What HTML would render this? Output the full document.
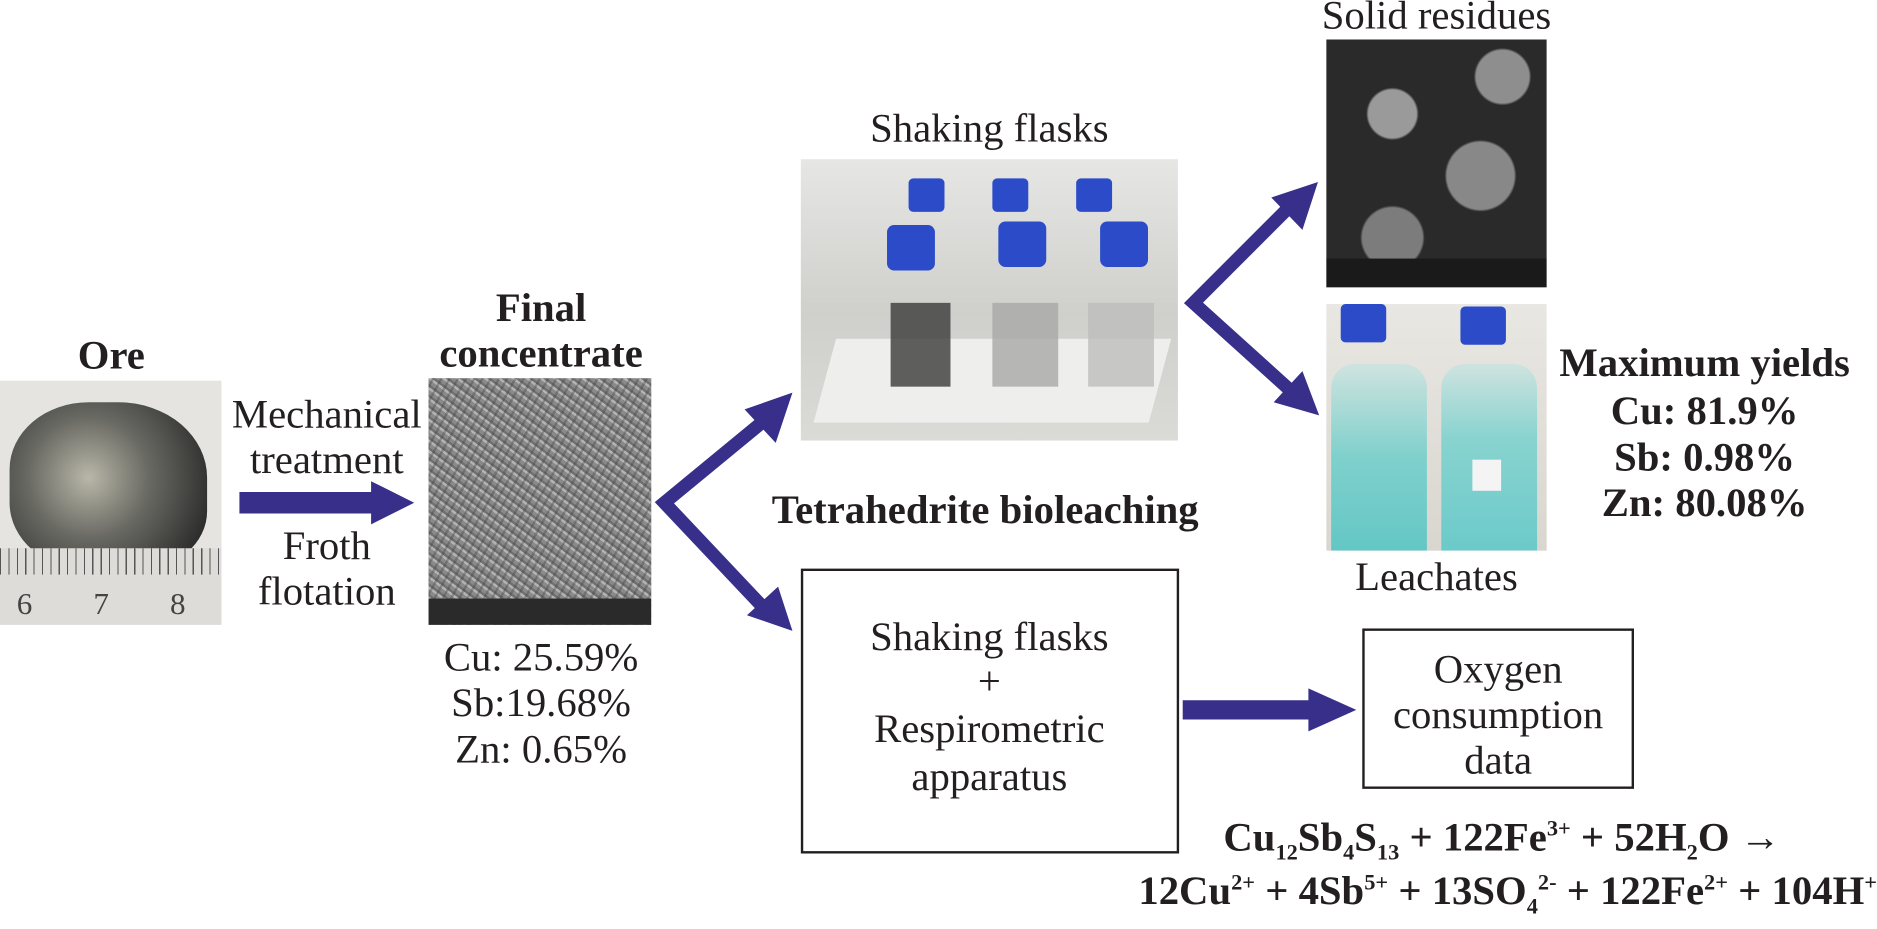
<!DOCTYPE html>
<html><head><meta charset="utf-8"><style>
html,body{margin:0;padding:0;background:#fff;overflow:hidden}
#w{position:absolute;left:0;top:0;width:1568px;height:759px;transform:scale(1.19707);transform-origin:0 0;font-family:"Liberation Serif",serif;color:#231f20}
.t{position:absolute;text-align:center;font-size:34px;line-height:36px;white-space:nowrap}
.b{font-weight:bold}
.box{position:absolute;border:2px solid #231f20;box-sizing:border-box}
.img{position:absolute;overflow:hidden}
sub,sup{font-size:55%}
</style></head><body><div id="w">
<!-- ore photo -->
<div class="img" style="left:0;top:318px;width:185px;height:204px;background:#e6e4e0">
 <div style="position:absolute;left:8px;top:18px;width:165px;height:140px;border-radius:40% 45% 35% 40%;background:radial-gradient(circle at 40% 45%,#b9b7a8,#6a6a64 40%,#2b2b2b 85%)"></div>
 <div style="position:absolute;left:0;top:140px;width:185px;height:64px;background:repeating-linear-gradient(90deg,#555 0 1px,transparent 1px 7px) top/100% 22px no-repeat,#dedcd8"></div>
 <div style="position:absolute;top:172px;left:14px;font-size:26px;color:#444">6</div>
 <div style="position:absolute;top:172px;left:78px;font-size:26px;color:#444">7</div>
 <div style="position:absolute;top:172px;left:142px;font-size:26px;color:#444">8</div>
</div>
<!-- SEM concentrate -->
<div class="img" style="left:358px;top:316px;width:186px;height:206px;background:repeating-linear-gradient(37deg,#8a8a8a 0 3px,#b4b4b4 3px 5px,#707070 5px 7px),#999">
 <div style="position:absolute;left:0;top:0;width:100%;height:100%;background:repeating-linear-gradient(-61deg,rgba(60,60,60,.35) 0 2px,transparent 2px 6px)"></div>
 <div style="position:absolute;left:0;bottom:0;width:100%;height:22px;background:#2a2a2a"></div>
</div>
<!-- shaking flasks photo -->
<div class="img" style="left:669px;top:133px;width:315px;height:235px;background:linear-gradient(#e6e6e4,#cfcfcc 55%,#dadad7)">
 <div style="position:absolute;left:20px;top:150px;width:280px;height:70px;background:#eeeeec;transform:skewX(-15deg)"></div>
 <div style="position:absolute;left:90px;top:16px;width:30px;height:28px;background:#2b4bc8;border-radius:4px"></div>
 <div style="position:absolute;left:160px;top:16px;width:30px;height:28px;background:#2b4bc8;border-radius:4px"></div>
 <div style="position:absolute;left:230px;top:16px;width:30px;height:28px;background:#2b4bc8;border-radius:4px"></div>
 <div style="position:absolute;left:72px;top:55px;width:40px;height:38px;background:#2b4bc8;border-radius:6px"></div>
 <div style="position:absolute;left:165px;top:52px;width:40px;height:38px;background:#2b4bc8;border-radius:6px"></div>
 <div style="position:absolute;left:250px;top:52px;width:40px;height:38px;background:#2b4bc8;border-radius:6px"></div>
 <div style="position:absolute;left:75px;top:120px;width:50px;height:70px;background:#3a3a3a;opacity:.8"></div>
 <div style="position:absolute;left:160px;top:120px;width:55px;height:70px;background:#a8a8a8;opacity:.8"></div>
 <div style="position:absolute;left:240px;top:120px;width:55px;height:70px;background:#bdbdbd;opacity:.8"></div>
</div>
<!-- solid residues -->
<div class="img" style="left:1108px;top:33px;width:184px;height:207px;background:radial-gradient(circle at 30% 30%,#9a9a9a 0 20px,transparent 22px),radial-gradient(circle at 70% 55%,#888 0 28px,transparent 30px),radial-gradient(circle at 30% 80%,#7c7c7c 0 25px,transparent 27px),radial-gradient(circle at 80% 15%,#8e8e8e 0 22px,transparent 24px),#2a2a2a">
 <div style="position:absolute;left:0;bottom:0;width:100%;height:24px;background:#1a1a1a"></div>
</div>
<!-- leachates -->
<div class="img" style="left:1108px;top:254px;width:184px;height:206px;background:linear-gradient(#e9e7e2,#d9d6cf)">
 <div style="position:absolute;left:12px;top:0;width:38px;height:32px;background:#2b4bc8;border-radius:4px"></div>
 <div style="position:absolute;left:112px;top:2px;width:38px;height:32px;background:#2b4bc8;border-radius:4px"></div>
 <div style="position:absolute;left:4px;top:50px;width:80px;height:156px;background:linear-gradient(#cfe3e0,#7fd0cc 50%,#64c7c5);border-radius:20px 20px 0 0"></div>
 <div style="position:absolute;left:96px;top:50px;width:80px;height:156px;background:linear-gradient(#cfe3e0,#88d3cf 40%,#6ccaca);border-radius:20px 20px 0 0"></div>
 <div style="position:absolute;left:122px;top:130px;width:24px;height:26px;background:#f4f4f4"></div>
</div>

<svg width="1568" height="759" style="position:absolute;left:0;top:0">
 <g fill="#372f8a" stroke="none">
  <polygon points="200,411 310,411 310,402 346,420 310,438 310,429 200,429"/>
  <polygon points="988,585 1093,585 1093,575 1133,593 1093,611 1093,601 988,601"/>
 </g>
 <g stroke="#372f8a" stroke-width="11" fill="none">
  <polyline points="640,350 555,420 640,510"/>
  <polyline points="1080,170 997,253 1080,328"/>
 </g>
 <g fill="#372f8a">
  <polygon points="662,328 622,342 648,370"/>
  <polygon points="662,527 624,514 650,490"/>
  <polygon points="1101,152 1062,165 1088,192"/>
  <polygon points="1102,347 1064,336 1088,310"/>
 </g>
</svg>

<div class="t b" style="left:0;width:186px;top:280px">Ore</div>
<div class="t" style="left:183px;width:180px;top:329px">Mechanical</div>
<div class="t" style="left:183px;width:180px;top:367px">treatment</div>
<div class="t" style="left:183px;width:180px;top:439px">Froth</div>
<div class="t" style="left:183px;width:180px;top:477px">flotation</div>
<div class="t b" style="left:352px;width:200px;top:240px">Final</div>
<div class="t b" style="left:352px;width:200px;top:278px">concentrate</div>
<div class="t" style="left:352px;width:200px;top:532px">Cu: 25.59%</div>
<div class="t" style="left:352px;width:200px;top:570px">Sb:19.68%</div>
<div class="t" style="left:352px;width:200px;top:609px">Zn: 0.65%</div>
<div class="t" style="left:669px;width:315px;top:90px">Shaking flasks</div>
<div class="t b" style="left:600px;width:446px;top:409px">Tetrahedrite bioleaching</div>
<div class="box" style="left:669px;top:475px;width:316px;height:238px"></div>
<div class="t" style="left:669px;width:315px;top:515px">Shaking flasks</div>
<div class="t" style="left:669px;width:315px;top:552px">+</div>
<div class="t" style="left:669px;width:315px;top:592px">Respirometric</div>
<div class="t" style="left:669px;width:315px;top:632px">apparatus</div>
<div class="t" style="left:1080px;width:240px;top:-4px">Solid residues</div>
<div class="t" style="left:1080px;width:240px;top:465px">Leachates</div>
<div class="t b" style="left:1294px;width:260px;top:286px">Maximum yields</div>
<div class="t b" style="left:1294px;width:260px;top:326px">Cu: 81.9%</div>
<div class="t b" style="left:1294px;width:260px;top:365px">Sb: 0.98%</div>
<div class="t b" style="left:1294px;width:260px;top:403px">Zn: 80.08%</div>
<div class="box" style="left:1138px;top:525px;width:227px;height:134px"></div>
<div class="t" style="left:1138px;width:227px;top:542px">Oxygen</div>
<div class="t" style="left:1138px;width:227px;top:580px">consumption</div>
<div class="t" style="left:1138px;width:227px;top:618px">data</div>
<div class="t b" style="left:1022px;width:500px;top:675px;text-align:left">Cu<sub>12</sub>Sb<sub>4</sub>S<sub>13</sub> + 122Fe<sup>3+</sup> + 52H<sub>2</sub>O →</div>
<div class="t b" style="left:900px;width:668px;top:720px;text-align:right">12Cu<sup>2+</sup> + 4Sb<sup>5+</sup> + 13SO<sub>4</sub><sup>2-</sup> + 122Fe<sup>2+</sup> + 104H<sup>+</sup></div>
</div></body></html>
